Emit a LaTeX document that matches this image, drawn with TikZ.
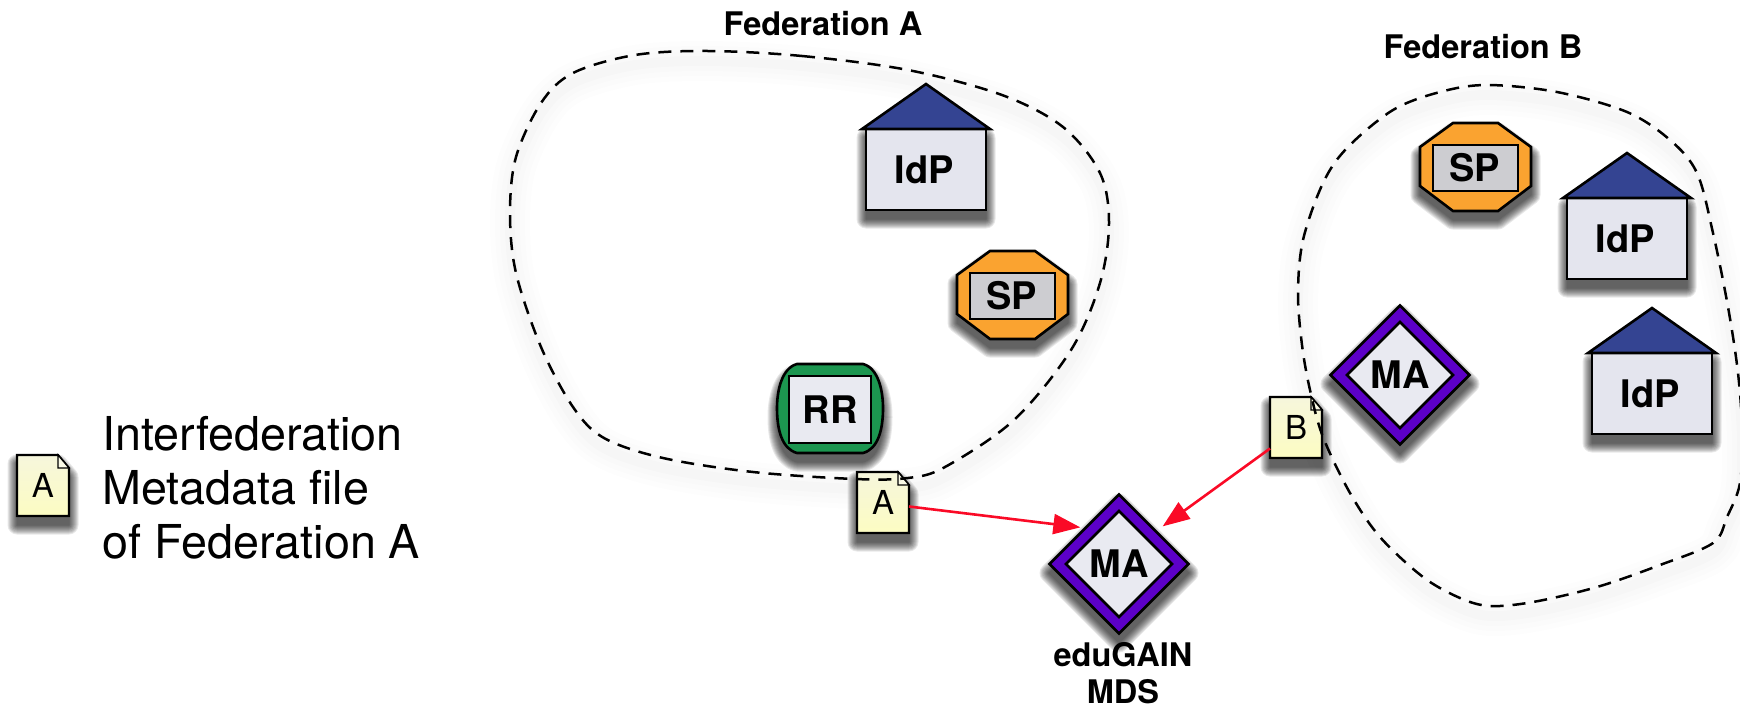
\documentclass[tikz,border=0pt]{standalone}
\usepackage{fontspec}
\setmainfont{TeX Gyre Heros}
\usetikzlibrary{shapes.geometric,arrows.meta,calc}
\definecolor{roofblue}{HTML}{344492}
\definecolor{bodygrey}{HTML}{E4E5EE}
\definecolor{spgrey}{HTML}{CDCDD1}
\definecolor{sporange}{HTML}{FAA330}
\definecolor{rrgreen}{HTML}{1C9650}
\definecolor{mapurple}{HTML}{5C00C8}
\definecolor{paleblue}{HTML}{E9EAF1}
\definecolor{docpale}{HTML}{F6F6DC}
\definecolor{docyellow}{HTML}{FCFCC2}
\definecolor{arrowred}{HTML}{FA0A26}
\tikzset{
  x=1pt,y=-1pt,
  outline/.style={draw=black,line width=2.6pt,line join=miter},
  lab/.style={font=\fontsize{38}{38}\selectfont\bfseries,inner sep=0pt,outer sep=0pt,text=black},
  title/.style={font=\fontsize{32.5}{37}\selectfont\bfseries,inner sep=0pt,text=black},
  docletter/.style={font=\fontsize{33}{33}\selectfont,inner sep=0pt,outer sep=0pt,minimum width=52pt,minimum height=61pt},
  fedline/.style={draw=black,line width=2.5pt,dash pattern=on 13pt off 9pt},
  fedglow/.style={draw=black,line join=round},
  madiam/.style={diamond,aspect=1,inner sep=0pt,outline},
  flow/.style={draw=arrowred,line width=2.6pt,-{Triangle[length=27pt,width=20pt]}}
}
\newcommand{\softshade}[1]{%
  \foreach \w in {1,3,...,19}{%
    \begin{scope}[transparency group,opacity=0.09,yshift=-9pt]
      \path[fill=black,draw=black,line width=\w pt,line join=round] #1;
    \end{scope}
  }%
}
\newcommand{\fedA}{plot[smooth cycle,tension=0.55] coordinates {(708,51)(802,56)(908,70)(1002,95)(1063,127)(1100,173)(1109,223)(1100,283)(1071,350)(1014,420)(945,467)(908,478)(855,479)(753,472)(663,458)(604,438)(573,407)(541,347)(516,273)(510,213)(516,157)(541,103)(573,73)(635,55)}}
\newcommand{\fedB}{plot[smooth cycle,tension=0.55] coordinates {(1298,293)(1303,240)(1323,183)(1347,148)(1393,110)(1440,92)(1487,85)(1557,92)(1627,112)(1670,140)(1697,173)(1713,233)(1728,307)(1738,373)(1742,430)(1740,483)(1727,517)(1713,543)(1660,565)(1597,587)(1533,602)(1490,606)(1460,598)(1423,577)(1380,537)(1350,493)(1323,437)(1310,390)(1302,345)}}
% #1 name, #2 centre x, #3 y of roof base
\newcommand{\idpbox}[3]{%
  \softshade{(#2-60,#3) rectangle (#2+60,#3+81)}
  \draw[outline,fill=bodygrey] (#2-60,#3) rectangle (#2+60,#3+81);
  \draw[outline,fill=roofblue] (#2-64,#3) -- (#2,#3-45) -- (#2+64,#3) -- cycle;
  \node[lab] (#1) at (#2-2,#3+41) {IdP};
}
% #1 name, #2 centre x, #3 centre y
\newcommand{\spbox}[3]{%
  \softshade{(#2-55.5,#3-20) -- (#2-22.5,#3-44) -- (#2+22.5,#3-44) -- (#2+55.5,#3-20) -- (#2+55.5,#3+19) -- (#2+22.5,#3+44) -- (#2-22.5,#3+44) -- (#2-55.5,#3+19) -- cycle}
  \draw[outline,fill=sporange] (#2-55.5,#3-20) -- (#2-22.5,#3-44) -- (#2+22.5,#3-44) -- (#2+55.5,#3-20) -- (#2+55.5,#3+19) -- (#2+22.5,#3+44) -- (#2-22.5,#3+44) -- (#2-55.5,#3+19) -- cycle;
  \draw[outline,fill=spgrey] (#2-42.5,#3-22) rectangle (#2+42.5,#3+24);
  \node[lab] (#1) at (#2-1,#3+1) {SP};
}
% #1 name, #2 left x, #3 top y, #4 letter
\newcommand{\docicon}[4]{%
  \softshade{(#2,#3) -- (#2+41,#3) -- (#2+52,#3+13) -- (#2+52,#3+61) -- (#2,#3+61) -- cycle}
  \shade[top color=docpale,bottom color=docyellow,draw=black,line width=2.2pt] (#2,#3) -- (#2+41,#3) -- (#2+52,#3+13) -- (#2+52,#3+61) -- (#2,#3+61) -- cycle;
  \draw[fill=docpale!70!white,draw=black,line width=1.2pt] (#2+41,#3) -- (#2+41,#3+13) -- (#2+52,#3+13) -- cycle;
  \node[docletter] (#1) at (#2+26,#3+30.5) {#4};
}
% #1 name, #2 centre x, #3 centre y
\newcommand{\mabox}[3]{%
  \softshade{(#2-70,#3) -- (#2,#3-70) -- (#2+70,#3) -- (#2,#3+70) -- cycle}
  \node[madiam,fill=mapurple,minimum width=140pt,minimum height=140pt] (#1) at (#2,#3) {};
  \node[madiam,fill=paleblue,minimum width=107pt,minimum height=107pt,font=\fontsize{38}{38}\selectfont\bfseries] (#1in) at (#2,#3) {MA};
}
\begin{document}
\begin{tikzpicture}
\useasboundingbox (0,0) rectangle (1740,707);
\begin{scope}
  \clip (0,0) rectangle (1740,707);
  \foreach \w/\o in {40/0.007,30/0.008,20/0.009,10/0.01}{
    \path[fedglow,line width=\w pt,opacity=\o,yshift=-10pt] \fedA;
    \path[fedglow,line width=\w pt,opacity=\o,yshift=-10pt] \fedB;
  }
\end{scope}

% Federation A
\idpbox{idpA}{926}{129}
\spbox{spA}{1012.5}{295}
\softshade{(797,364) -- (863,364) .. controls (878,368) and (883,390) .. (883,408) .. controls (883,430) and (878,449) .. (863,453) -- (797,453) .. controls (782,449) and (777,430) .. (777,408) .. controls (777,390) and (782,368) .. (797,364) -- cycle}
\draw[outline,fill=rrgreen] (797,364) -- (863,364) .. controls (878,368) and (883,390) .. (883,408) .. controls (883,430) and (878,449) .. (863,453) -- (797,453) .. controls (782,449) and (777,430) .. (777,408) .. controls (777,390) and (782,368) .. (797,364) -- cycle;
\draw[outline,fill=paleblue] (789,376) rectangle (871,443);
\node[lab] (rrA) at (830,410) {RR};

% Federation B
\spbox{spB}{1475.5}{167}
\idpbox{idpB}{1627}{198}
\idpbox{idpC}{1652}{353}
\mabox{maB}{1400}{375}

% central service
\mabox{maC}{1119}{564}

% files
\docicon{docA}{857}{472}{A}
\docicon{docB}{1270}{397}{B}
\docicon{docLegend}{17}{455}{A}

% federation borders
\draw[fedline] \fedA;
\draw[fedline] \fedB;

% flows
\draw[flow] ($(docA.east)+(0,4)$) -- ($(maC.north west)+(-3,-1)$);
\draw[flow] ($(docB.west)+(0,21)$) -- ($(maC.north east)+(8,-2)$);

% labels
\node[title,anchor=base] (fedAlabel) at (823,35) {Federation A};
\node[title,anchor=base] (fedBlabel) at (1483,58) {Federation B};
\node[title,align=center,anchor=center] (mds) at (1123,673) {eduGAIN\\MDS};
\node[font=\fontsize{46.7}{54}\selectfont,align=left,inner sep=0pt,anchor=west] (legend) at (102,488) {Interfederation\\Metadata file\\of Federation A};
\end{tikzpicture}
\end{document}
